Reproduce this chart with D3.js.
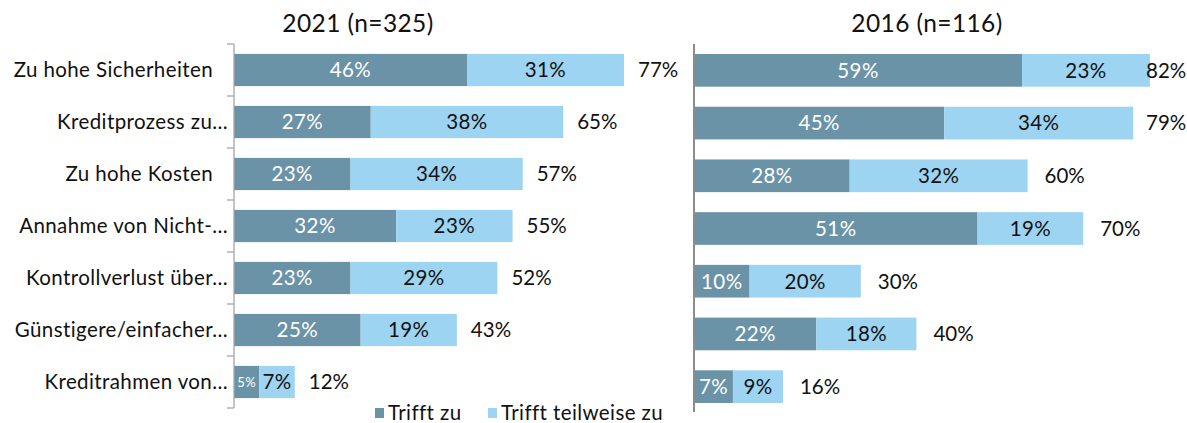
<!DOCTYPE html>
<html><head><meta charset="utf-8">
<script src="https://cdn.jsdelivr.net/npm/d3@7"></script>
<style>body{margin:0;background:#fff}text{font-family:Lato,"Noto Sans",sans-serif;letter-spacing:0.4px}text.tot{letter-spacing:0}</style>
</head><body>
<svg id="c" width="1187" height="423"></svg>
<script>
const categories = ["Zu hohe Sicherheiten","Kreditprozess zu…","Zu hohe Kosten","Annahme von Nicht-…","Kontrollverlust über…","Günstigere/einfacher…","Kreditrahmen von…"];
const trifft2021 = [46,27,23,32,23,25,5];
const teilweise2021 = [31,38,34,23,29,19,7];
const total2021 = [77,65,57,55,52,43,12];
const trifft2016 = [59,45,28,51,10,22,7];
const teilweise2016 = [23,34,32,19,20,18,9];
const total2016 = [82,79,60,70,30,40,16];
const seriesNames = ["Trifft zu","Trifft teilweise zu"];
const titles = ["2021 (n=325)","2016 (n=116)"];

const C1 = "#6a93a8", C2 = "#9dd4f1";
const svg = d3.select("#c");
const FS = 20.5;

function panel(cfg){
  const x = d3.scaleLinear().domain([0,100]).range(cfg.xr);
  const y = d3.scaleBand().domain(categories).range(cfg.yr).paddingInner(0.38).paddingOuter(0.19);
  const g = svg.append("g");
  categories.forEach((c,i)=>{
    const a = cfg.v1[i], b = cfg.v2[i], yy = y(c), h = y.bandwidth();
    g.append("rect").attr("x",x(0)).attr("y",yy).attr("width",x(a)-x(0)).attr("height",h).attr("fill",C1);
    g.append("rect").attr("x",x(a)).attr("y",yy).attr("width",x(a+b)-x(a)).attr("height",h).attr("fill",C2);
    const cy = yy+h/2;
    g.append("text").attr("x",(x(0)+x(a))/2).attr("y",cy).attr("dy","0.36em").attr("text-anchor","middle")
      .attr("fill","#fff").attr("font-size", a<6?13:FS).text(a+"%");
    g.append("text").attr("x",(x(a)+x(a+b))/2).attr("y",cy).attr("dy","0.36em").attr("text-anchor","middle")
      .attr("fill","#111").attr("font-size",FS).text(b+"%");
    g.append("text").attr("class","tot").attr("x",Math.min(x(a+b)+cfg.gap, cfg.maxX)).attr("y",cy).attr("dy","0.36em")
      .attr("fill","#111").attr("font-size",FS).text(cfg.tot[i]+"%");
  });
  g.append("text").attr("x",cfg.tx).attr("y",32).attr("text-anchor","middle").attr("font-size",24.5).attr("fill","#111").text(cfg.title);
  return {x,y,g};
}

const L = panel({xr:[234,740.5], yr:[44,408], v1:trifft2021, v2:teilweise2021, tot:total2021, gap:14, maxX:2000, tx:358, title:titles[0]});
const R = panel({xr:[694,1250], yr:[44,413], v1:trifft2016, v2:teilweise2016, tot:total2016, gap:17, maxX:1146, tx:927, title:titles[1]});

// left axis with ticks between categories
const la = svg.append("g");
la.append("line").attr("x1",234).attr("x2",234).attr("y1",44).attr("y2",408).attr("stroke","#a6a6a6").attr("stroke-width",1.3);
d3.range(8).forEach(k=>{
  const yy = 44 + k*(364/7);
  la.append("line").attr("x1",227).attr("x2",234).attr("y1",yy).attr("y2",yy).attr("stroke","#a6a6a6").attr("stroke-width",1.3);
});
// category labels
categories.forEach((c)=>{
  const trunc = c.endsWith("…");
  svg.append("text").attr("x", trunc?228:213).attr("y", L.y(c)+L.y.bandwidth()/2).attr("dy","0.36em")
    .attr("text-anchor","end").attr("font-size",FS).attr("fill","#111").text(c);
});
// right axis
svg.append("line").attr("x1",694).attr("x2",694).attr("y1",44).attr("y2",412).attr("stroke","#8c8c8c").attr("stroke-width",2);

// legend
const lg = svg.append("g");
[[375,C1,seriesNames[0]],[488,C2,seriesNames[1]]].forEach(([lx,col,t])=>{
  lg.append("rect").attr("x",lx).attr("y",408).attr("width",9).attr("height",10).attr("fill",col);
  lg.append("text").attr("x",lx+13).attr("y",413).attr("dy","0.36em").attr("font-size",FS).attr("fill","#111").text(t);
});
</script>
</body></html>
